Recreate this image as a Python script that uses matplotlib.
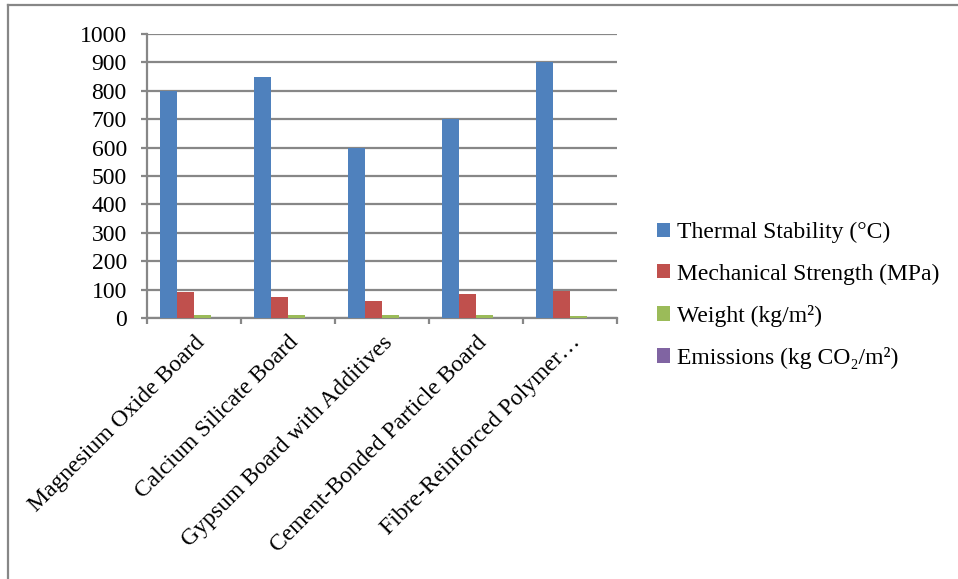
import matplotlib.pyplot as plt
import numpy as np
from matplotlib.lines import Line2D

materials = ["Magnesium Oxide Board", "Calcium Silicate Board",
             "Gypsum Board with Additives", "Cement-Bonded Particle Board",
             "Fibre-Reinforced Polymer\u2026"]
series = ["Thermal Stability (\u00b0C)", "Mechanical Strength (MPa)",
          "Weight (kg/m\u00b2)", "Emissions (kg CO\u2082/m\u00b2)"]
thermal = [800, 850, 600, 700, 900]
strength = [90, 75, 60, 85, 95]
weight = [12, 10, 9, 11, 8]
emissions = [0.5, 0.4, 0.6, 0.5, 0.3]
colors = ["#4f81bd", "#c0504d", "#9bbb59", "#8064a2"]

plt.rcParams['font.family'] = ['Liberation Serif', 'DejaVu Serif']

fig = plt.figure(figsize=(9.58, 5.79), dpi=100)
ax = fig.add_axes([147/958, 1 - 318/579, 470/958, 284/579])

x = np.arange(len(materials))
w = 1 / 5.5
data = [thermal, strength, weight, emissions]
for i, vals in enumerate(data):
    ax.bar(x - 1.5*w + i*w, vals, w, color=colors[i], label=series[i], zorder=3)

grey = "#878787"
ax.set_xlim(-0.5, len(materials) - 0.5)
ax.set_ylim(0, 1000)
ax.set_yticks(range(0, 1001, 100))
ax.yaxis.grid(True, color=grey, linewidth=1.6, zorder=0)
for s in ["top", "right"]:
    ax.spines[s].set_visible(False)
ax.spines["left"].set_color(grey)
ax.spines["bottom"].set_color(grey)
ax.spines["left"].set_linewidth(1.6)
ax.spines["bottom"].set_linewidth(1.6)

ax.set_xticks(np.arange(-0.5, len(materials), 1.0), minor=False)
ax.set_xticklabels([])
ax.set_xticks(x, minor=True)
ax.set_xticklabels(materials, minor=True, rotation=45, ha="right",
                   rotation_mode="anchor", fontsize=17)
ax.tick_params(axis="x", which="major", length=4.5, width=1.6, color=grey, direction="out")
ax.tick_params(axis="x", which="minor", length=0, pad=10)
ax.tick_params(axis="y", length=4.5, width=1.6, color=grey, labelsize=17, pad=10)

ax.legend(loc="center left", bbox_to_anchor=(1.064, 0.079), frameon=False,
          fontsize=17, handlelength=0.55, handleheight=0.55, handletextpad=0.3,
          labelspacing=0.85, borderaxespad=0)

# outer frame lines
fig.add_artist(Line2D([8/958, 8/958], [0, 1 - 5/579], color=grey, linewidth=1.6))
fig.add_artist(Line2D([8/958, 1], [1 - 5/579, 1 - 5/579], color=grey, linewidth=1.6))

fig.savefig("out.png", dpi=100)
